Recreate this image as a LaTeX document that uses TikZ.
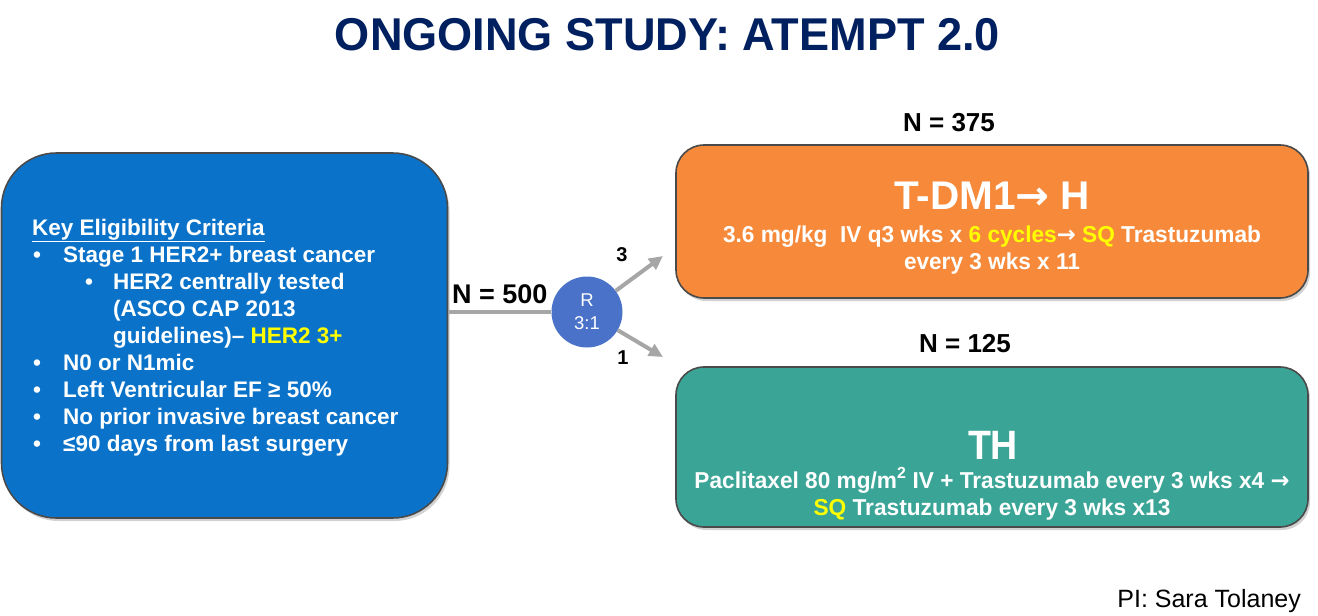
\documentclass[tikz,border=0pt]{standalone}
\usepackage{fontspec}
\setmainfont{Liberation Sans}
\newfontfamily\arrfont{DejaVu Sans}
\usepackage{graphicx}
\usetikzlibrary{arrows.meta,shadows}
\definecolor{navy}{HTML}{002060}
\definecolor{boxblue}{HTML}{0A73C9}
\definecolor{boxorange}{HTML}{F68A3A}
\definecolor{boxteal}{HTML}{3AA597}
\definecolor{circblue}{HTML}{4A72C8}
\definecolor{arrowgray}{HTML}{A6A6A6}
\definecolor{hiyellow}{HTML}{FFFF00}
\definecolor{rimgray}{HTML}{4A4A4A}
\newcommand{\fitw}[2]{\resizebox{#1pt}{\height}{#2}}
\newcommand{\hl}[1]{\textcolor{hiyellow}{#1}}
\newcommand{\arr}{{\arrfont\bfseries →}}
\tikzset{
  rbox/.style={draw=rimgray, line width=1.6pt, inner sep=0pt,
    drop shadow={opacity=0.35, shadow xshift=2pt, shadow yshift=-3pt}},
  crit/.style={anchor=base west, inner sep=0pt, text=white,
    font=\fontsize{22.5}{27}\selectfont\bfseries},
  boxtxt/.style={anchor=base, inner sep=0pt, text=white, font=\bfseries},
  nlabel/.style={anchor=base, inner sep=0pt, text=black,
    font=\fontsize{26}{30}\selectfont\bfseries},
  gline/.style={draw=arrowgray, line width=4pt},
  garrow/.style={draw=arrowgray, line width=4pt,
    -{Triangle[length=14pt,width=13pt]}},
  ratio/.style={inner sep=0pt, text=black, font=\fontsize{20}{24}\selectfont\bfseries},
}
\begin{document}
\begin{tikzpicture}[x=1pt,y=-1pt]
\useasboundingbox[fill=white] (0,0) rectangle (1318,616);

% title
\node[anchor=base, inner sep=0pt, text=navy, font=\fontsize{46}{50}\selectfont\bfseries]
  (title) at (667.5,50) {\fitw{665}{ONGOING STUDY: ATEMPT 2.0}};

% boxes
\node[rbox, fill=boxblue, rounded corners=55pt, minimum width=446pt, minimum height=365pt]
  (critbox) at (224.5,335.5) {};
\node[rbox, fill=boxorange, rounded corners=28pt, minimum width=632pt, minimum height=153pt]
  (armA) at (992,221.5) {};
\node[rbox, fill=boxteal, rounded corners=28pt, minimum width=632pt, minimum height=160pt]
  (armB) at (992,447) {};

% criteria text
\node[crit] (k0) at (32,235) {\underline{Key Eligibility Criteria}};
\node[crit] (b1) at (33,262) {•};
\node[crit] (t1) at (63,262) {Stage 1 HER2+ breast cancer};
\node[crit] (b2) at (85,289) {•};
\node[crit] (t2) at (113,289) {HER2 centrally tested};
\node[crit] (t3) at (113,316) {(ASCO CAP 2013};
\node[crit] (t4) at (113,343) {guidelines)– \hl{HER2 3+}};
\node[crit] (b5) at (33,370.5) {•};
\node[crit] (t5) at (63,370.5) {N0 or N1mic};
\node[crit] (b6) at (33,397.6) {•};
\node[crit] (t6) at (63,397.6) {Left Ventricular EF ≥ 50\%};
\node[crit] (b7) at (33,424.7) {•};
\node[crit] (t7) at (63,424.7) {No prior invasive breast cancer};
\node[crit] (b8) at (33,451.8) {•};
\node[crit] (t8) at (63,451.8) {≤90 days from last surgery};

% randomisation
\node[circle, fill=circblue, minimum size=71pt, inner sep=0pt, text=white, align=center,
  font=\fontsize{18.5}{23}\selectfont] (rand) at (587,312) {R\\3:1};
\node[anchor=base west, inner sep=0pt, font=\fontsize{27}{30}\selectfont\bfseries]
  (n500) at (452,303) {N = 500};
\coordinate (tipA) at (663,256);
\coordinate (tipB) at (663,357);
\draw[gline] (rand.west -| critbox.east) -- (rand.west);
\draw[garrow] (rand) -- (tipA);
\draw[garrow] (rand) -- (tipB);
\node[ratio] (r3) at (622,255) {3};
\node[ratio] (r1) at (623,358) {1};

% arm A
\node[nlabel] (n375) at (949,131) {N = 375};
\node[boxtxt, font=\fontsize{40}{44}\selectfont\bfseries] (tdm1) at (992,209)
  {\fitw{196}{T-DM1\arr\ H}};
\node[boxtxt, font=\fontsize{23}{26}\selectfont\bfseries] (a1) at (992,242)
  {\fitw{538}{3.6 mg/kg\ \ IV q3 wks x \hl{6 cycles}\arr\ \hl{SQ} Trastuzumab}};
\node[boxtxt, font=\fontsize{23}{26}\selectfont\bfseries] (a2) at (992,269)
  {\fitw{176}{every 3 wks x 11}};

% arm B
\node[nlabel] (n125) at (965,352) {N = 125};
\node[boxtxt, font=\fontsize{41}{44}\selectfont\bfseries] (th) at (993,459)
  {\fitw{50}{TH}};
\node[boxtxt, font=\fontsize{23}{26}\selectfont\bfseries] (b1l) at (992,488)
  {\fitw{595}{Paclitaxel 80 mg/m\textsuperscript{2} IV + Trastuzumab every 3 wks x4 \arr}};
\node[boxtxt, font=\fontsize{23}{26}\selectfont\bfseries] (b2l) at (992,515)
  {\fitw{357}{\hl{SQ} Trastuzumab every 3 wks x13}};

% PI
\node[anchor=base east, inner sep=0pt, font=\fontsize{25}{30}\selectfont]
  (pi) at (1301,607) {PI: Sara Tolaney};
\end{tikzpicture}
\end{document}
